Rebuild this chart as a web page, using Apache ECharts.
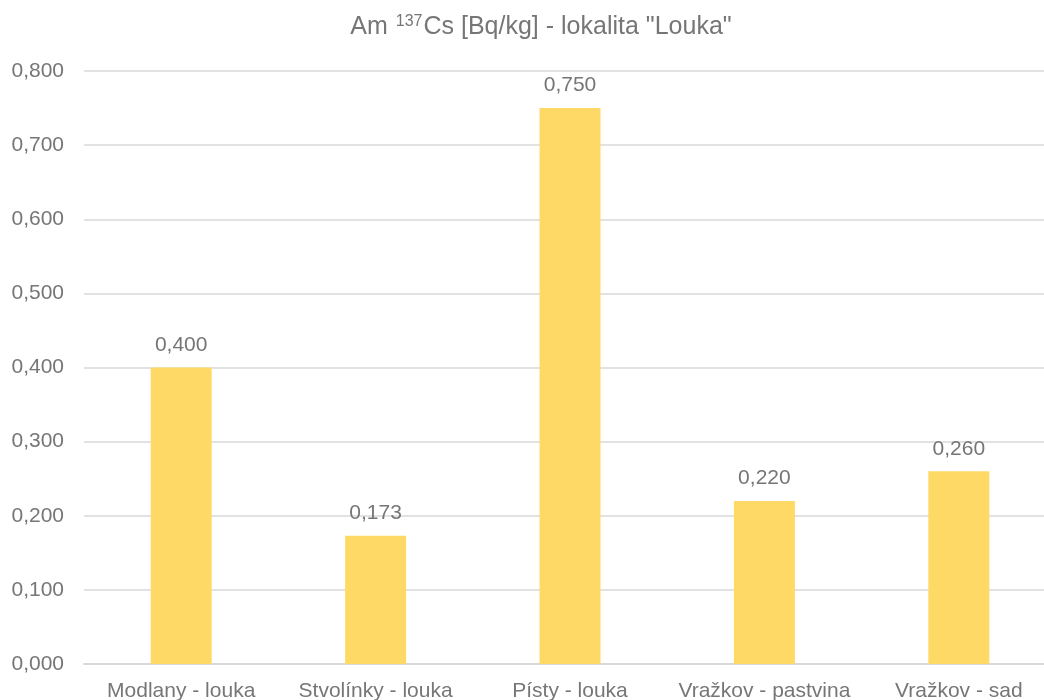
<!DOCTYPE html>
<html>
<head>
<meta charset="utf-8">
<script src="https://cdn.jsdelivr.net/npm/echarts@6/dist/echarts.min.js"></script>
<style>
html,body{margin:0;padding:0;background:#fff;}
#chart{width:1044px;height:700px;}
</style>
</head>
<body>
<div id="chart"></div>
<script>
// Sampling sites and measured activity
const categories = ['Modlany - louka', 'Stvolínky - louka', 'Písty - louka', 'Vražkov - pastvina', 'Vražkov - sad'];
const values = [0.400, 0.173, 0.750, 0.220, 0.260];
const yTicks = [0, 0.1, 0.2, 0.3, 0.4, 0.5, 0.6, 0.7, 0.8];

const fmt = v => v.toFixed(3).replace('.', ',');
const FONT = '"Liberation Sans", Arial, sans-serif';
const GREY = '#767676';

const chart = echarts.init(document.getElementById('chart'), null, {renderer: 'canvas'});
chart.setOption({
  animation: false,
  title: {
    text: 'Am {sup|137}Cs [Bq/kg] - lokalita "Louka"',
    left: 536,
    textAlign: 'center',
    top: 9,
    textStyle: {
      fontFamily: FONT,
      fontSize: 25,
      fontWeight: 'normal',
      color: GREY,
      rich: {
        sup: {fontFamily: FONT, fontSize: 16, color: GREY, verticalAlign: 'top', padding: [0, 1, 10, 1]}
      }
    }
  },
  // plot area runs slightly past the right edge of the canvas
  grid: {left: 84, width: 972, top: 71, bottom: 36, containLabel: false, outerBoundsMode: 'none'},
  xAxis: {
    type: 'category',
    data: categories,
    axisLine: {lineStyle: {color: '#d9d9d9', width: 2}},
    axisTick: {show: false},
    axisLabel: {fontFamily: FONT, fontSize: 21, color: GREY, margin: 17, interval: 0}
  },
  yAxis: {
    type: 'value',
    min: yTicks[0],
    max: yTicks[yTicks.length - 1],
    interval: 0.1,
    axisLine: {show: false},
    axisTick: {show: false},
    splitLine: {lineStyle: {color: '#d9d9d9', width: 1.5}},
    axisLabel: {fontFamily: FONT, fontSize: 21, color: GREY, margin: 20, formatter: v => fmt(v)}
  },
  series: [{
    type: 'bar',
    data: values,
    barWidth: 61,
    itemStyle: {color: '#FFD966'},
    label: {
      show: true,
      position: 'top',
      distance: 12,
      fontFamily: FONT,
      fontSize: 21,
      color: GREY,
      formatter: p => fmt(p.value)
    }
  }]
});
</script>
</body>
</html>
